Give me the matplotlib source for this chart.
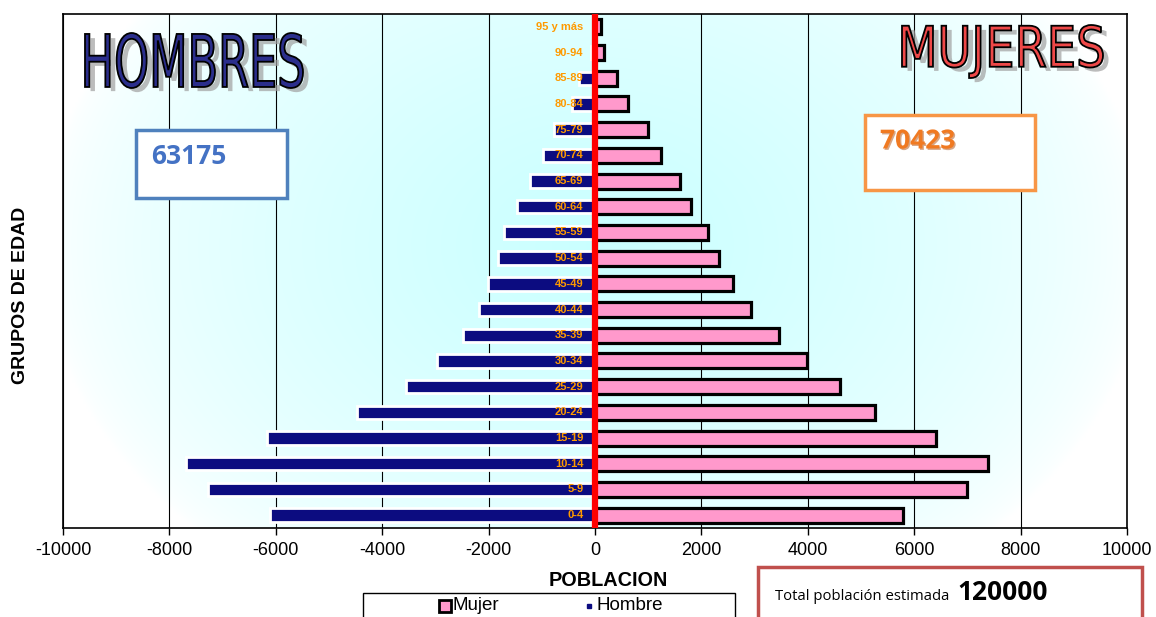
#!/usr/bin/env python3
"""Pirámide de población por grupos de edad (hombres / mujeres)."""

import matplotlib

matplotlib.use("Agg")

import matplotlib.patheffects as pe
import matplotlib.pyplot as plt
import numpy as np
from matplotlib.font_manager import FontProperties
from matplotlib.lines import Line2D
from matplotlib.patches import PathPatch, Rectangle
from matplotlib.textpath import TextPath
from matplotlib.transforms import Affine2D, IdentityTransform

W, H = 1156, 617
DPI = 100

grupos = ["0-4", "5-9", "10-14", "15-19", "20-24", "25-29", "30-34", "35-39",
          "40-44", "45-49", "50-54", "55-59", "60-64", "65-69", "70-74",
          "75-79", "80-84", "85-89", "90-94", "95 y más"]
hombres = [6110, 7270, 7690, 6170, 4470, 3550, 2970, 2480, 2180, 2020,
           1820, 1710, 1470, 1230, 980, 780, 440, 300, 80, 20]
mujeres = [5790, 7000, 7390, 6410, 5260, 4600, 3990, 3460, 2930, 2590,
           2330, 2120, 1800, 1600, 1240, 1000, 620, 410, 160, 110]
xticks = list(range(-10000, 10001, 2000))

total_hombres = "63175"
total_mujeres = "70423"
total_poblacion = "120000"

NAVY = "#0c0c80"
PINK = "#ff99cc"
LABEL = "#ff9a00"
ARIAL = "Liberation Sans"


def fx(x):
    return x / W


def fy(y):
    return 1 - y / H


def big_word(fig, word, x0, x1, ytop, ybot, face):
    # outlined, stretched title word with a soft grey shadow (pixel coords)
    tp = TextPath((0, 0), word, size=100, prop=FontProperties(family="DejaVu Sans"))
    ext = tp.get_extents()
    sx = (x1 - x0) / ext.width
    sy = (ybot - ytop) / ext.height
    tr = Affine2D().translate(-ext.x0, -ext.y0).scale(sx, sy).translate(x0, H - ybot)
    patch = PathPatch(tr.transform_path(tp), facecolor=face, edgecolor="black",
                      lw=1.3, transform=IdentityTransform(),
                      path_effects=[pe.SimplePatchShadow(offset=(4, -3),
                                                         shadow_rgbFace="#a0a0a0",
                                                         alpha=0.7),
                                    pe.Normal()])
    fig.add_artist(patch)


fig = plt.figure(figsize=(W / DPI, H / DPI), dpi=DPI)
ax = fig.add_axes([fx(63), fy(528), fx(1127) - fx(63), (528 - 14) / H])

# radial cyan haze behind the pyramid
gx, gy = np.meshgrid(np.linspace(0, 1, 400), np.linspace(0, 1, 300))
r = np.sqrt(((gx - 0.50) / 0.52) ** 2 + ((gy - 0.55) / 0.80) ** 2)
t = np.clip(1 - r, 0, 1) ** 0.6
bg = np.ones((300, 400, 3))
bg[..., 0] = 1 - 0.21 * t
ax.imshow(bg, extent=[-10000, 10000, -0.5, 19.5], aspect="auto", zorder=0,
          interpolation="bilinear", origin="lower")

y = np.arange(len(grupos))
ax.barh(y, [-v for v in hombres], height=0.52, color=NAVY, edgecolor="white",
        linewidth=2, zorder=3)
ax.barh(y, mujeres, height=0.58, color=PINK, edgecolor="black",
        linewidth=2.3, zorder=3)
ax.axvline(0, color="#ff0000", lw=4.5, zorder=5)

for yi, g in zip(y, grupos):
    ax.text(-220, yi, g, ha="right", va="center", fontsize=8, fontweight="bold",
            color=LABEL, family=ARIAL, zorder=6)

ax.set_xlim(-10000, 10000)
ax.set_ylim(-0.5, 19.5)
ax.set_xticks(xticks)
ax.set_xticklabels([str(v) for v in xticks], fontsize=13, family=ARIAL)
ax.set_yticks([])
ax.tick_params(axis="x", direction="out", length=5, width=1, pad=5)
ax.grid(axis="x", color="black", lw=0.8, zorder=1)
ax.set_axisbelow(True)
for s in ax.spines.values():
    s.set_color("black")
    s.set_linewidth(1.2)

fig.text(fx(608), fy(580), "POBLACION", ha="center", va="center", fontsize=14.3,
         fontweight="bold", family=ARIAL)
fig.text(fx(21), fy(295), "GRUPOS DE EDAD", ha="center", va="center", fontsize=14,
         fontweight="bold", family=ARIAL, rotation=90)

big_word(fig, "HOMBRES", 85, 303, 33, 88, "#2b2e8c")
big_word(fig, "MUJERES", 902, 1103, 25, 78, "#ee4848")

# summary boxes
fig.add_artist(Rectangle((fx(136), fy(198)), fx(151), 68 / H, transform=fig.transFigure,
                         facecolor="white", edgecolor="#4f81bd", lw=2.5, zorder=4))
fig.text(fx(151), fy(156), total_hombres, ha="left", va="center", fontsize=19,
         fontweight="bold", color="#4472c4", family="Open Sans", zorder=5)

fig.add_artist(Rectangle((fx(865), fy(190)), fx(170), 75 / H, transform=fig.transFigure,
                         facecolor="white", edgecolor="#f79646", lw=2.5, zorder=4))
fig.text(fx(880), fy(141), total_mujeres, ha="left", va="center", fontsize=19,
         fontweight="bold", color="#f07a22", family="Open Sans", zorder=5,
         path_effects=[pe.withSimplePatchShadow(offset=(1, -1),
                                                shadow_rgbFace="#b05010", alpha=0.5)])

# legend frame, drawn by hand so it runs off the bottom edge
fig.add_artist(Rectangle((fx(363), fy(640)), fx(372), 47 / H, transform=fig.transFigure,
                         facecolor="white", edgecolor="black", lw=1))
fig.add_artist(Line2D([fx(445)], [fy(606)], transform=fig.transFigure, marker="s",
                      ls="", markersize=8, markerfacecolor=PINK,
                      markeredgecolor="black", markeredgewidth=2))
fig.text(fx(452), fy(605), "Mujer", ha="left", va="center", fontsize=13.5,
         family=ARIAL)
fig.add_artist(Line2D([fx(589)], [fy(606)], transform=fig.transFigure, marker="s",
                      ls="", markersize=3.5, markerfacecolor=NAVY,
                      markeredgecolor=NAVY))
fig.text(fx(596), fy(605), "Hombre", ha="left", va="center", fontsize=13.5,
         family=ARIAL)

fig.add_artist(Rectangle((fx(758), fy(640)), fx(384), 73 / H, transform=fig.transFigure,
                         facecolor="white", edgecolor="#c0504d", lw=2.5))
fig.text(fx(775), fy(597), "Total población estimada", ha="left", va="center",
         fontsize=10.7, family="Open Sans")
fig.text(fx(957), fy(593), total_poblacion, ha="left", va="center", fontsize=19,
         fontweight="bold", family="Open Sans")

fig.savefig("out.png", dpi=DPI)
